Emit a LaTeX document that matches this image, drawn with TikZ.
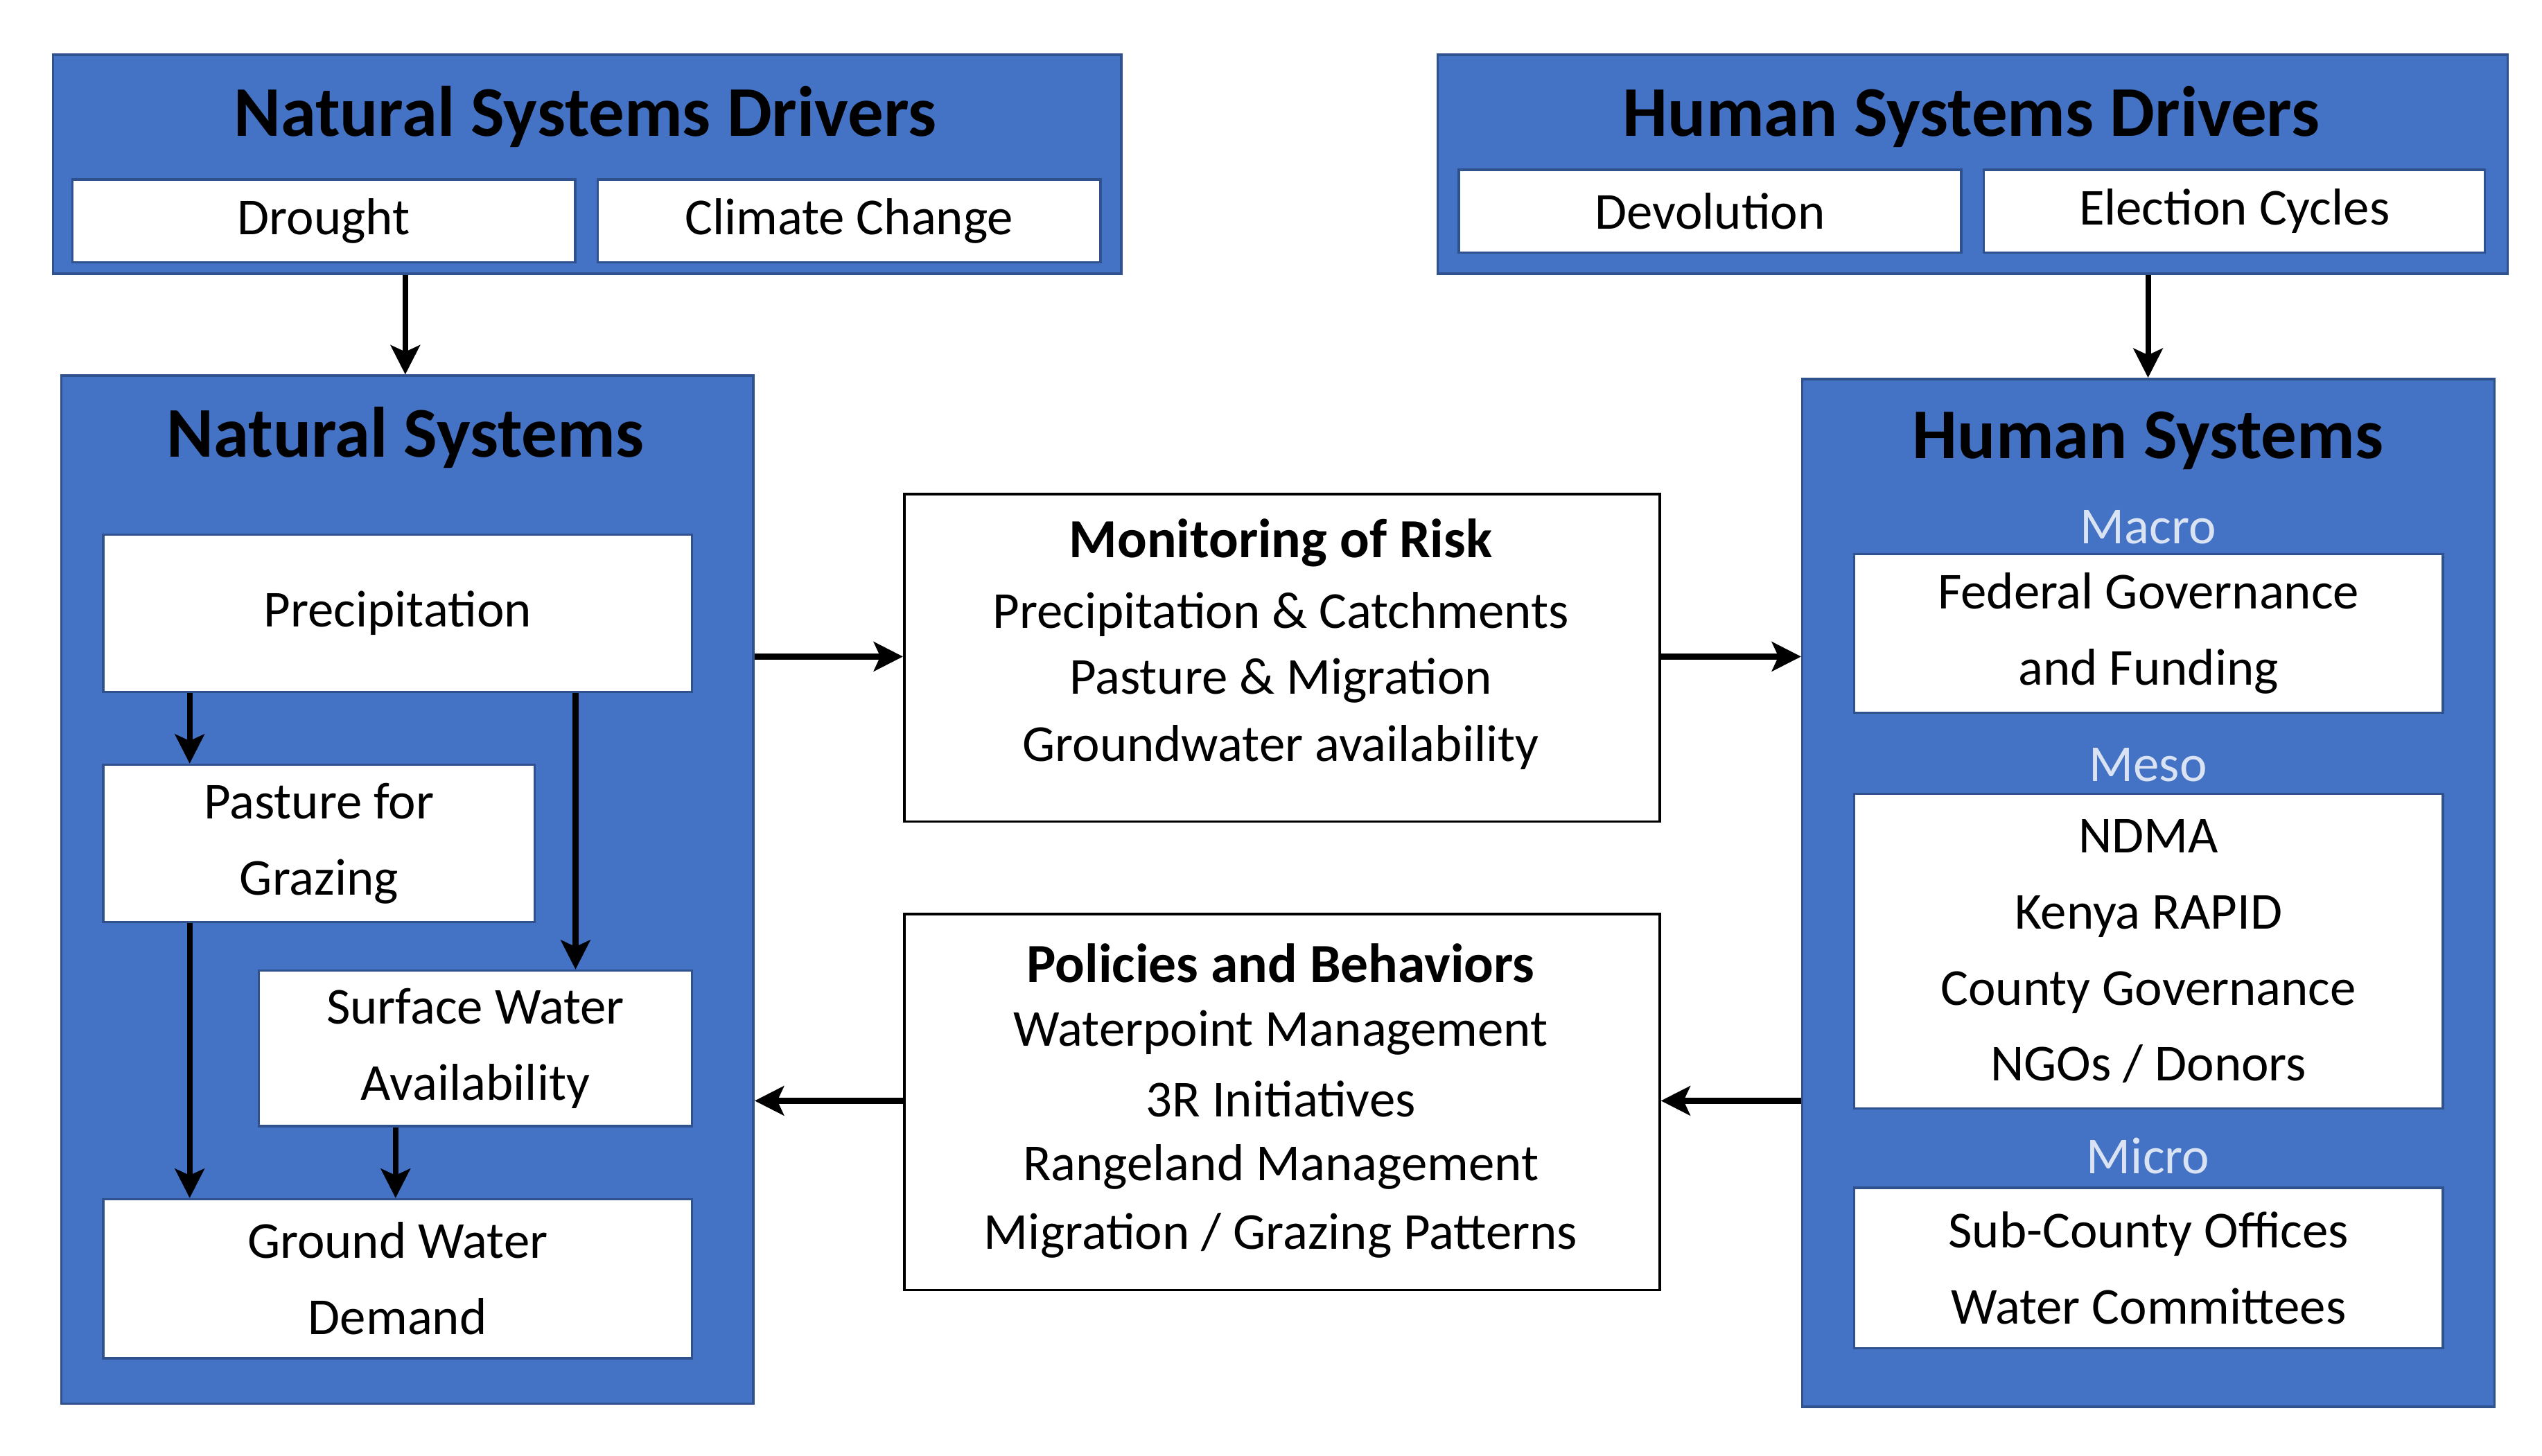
\documentclass[tikz,border=0pt]{standalone}
\usepackage{fontspec}
\setmainfont{Carlito}
\usetikzlibrary{calc,arrows.meta}
\definecolor{bfill}{HTML}{4472C4}
\definecolor{bline}{HTML}{2F528F}
\definecolor{ltxt}{HTML}{DAE3F3}
\tikzset{
 outer/.style={draw=bline,fill=bfill,line width=1.5pt,anchor=north west,inner sep=0pt},
 wbox/.style={draw=bline,fill=white,line width=1.5pt,anchor=north west,inner sep=0pt,align=center,font=\fontsize{32}{47}\selectfont},
 mbox/.style={draw=black,fill=white,line width=1.5pt,anchor=north west,inner sep=0pt},
 ttl/.style={font=\fontsize{44}{50}\selectfont\bfseries},
 txt/.style={font=\fontsize{32}{40}\selectfont},
 lvl/.style={font=\fontsize{32}{40}\selectfont,text=ltxt},
 arr/.style={line width=3.5pt,-{Stealth[length=18pt,width=18pt,inset=4pt]}}
}
\newcommand{\bx}[6]{\node[#1,minimum width=#4-#2,minimum height=#5-#3] (#6) at (#2,#3) {};}
\begin{document}
\begin{tikzpicture}[x=1pt,y=-1pt]
\useasboundingbox (0,0) rectangle (1568,898);
% Natural drivers
\bx{outer}{32}{33}{691}{168}{nsd}
\node[ttl] (nsdt) at (361,72) {Natural Systems Drivers};
\node[wbox,minimum width=310,minimum height=51] (dr) at (44,110) {Drought};
\node[wbox,minimum width=310,minimum height=51] (cc) at (368,110) {Climate Change};
% Human drivers
\bx{outer}{886}{33}{1546}{168}{hsd}
\node[ttl] (hsdt) at (1216,72) {Human Systems Drivers};
\node[wbox,minimum width=310,minimum height=51] (dev) at (899,104) {Devolution};
\node[wbox,minimum width=309,minimum height=51] (el) at (1223,104) {Election Cycles};
% Natural systems
\bx{outer}{37}{231}{464}{865}{ns}
\node[ttl] (nst) at (250,270) {Natural Systems};
\node[wbox,minimum width=363,minimum height=97] (prec) at (63,329) {Precipitation};
\node[wbox,minimum width=266,minimum height=97] (past) at (63,471) {Pasture for\\Grazing};
\node[wbox,minimum width=267,minimum height=96] (sw) at (159,598) {Surface Water\\Availability};
\node[wbox,minimum width=363,minimum height=98] (gw) at (63,739) {Ground Water\\Demand};
% Middle
\node[mbox,minimum width=466,minimum height=202] (mon) at (557,304) {};
\node[ttl,font=\fontsize{34}{40}\selectfont\bfseries] (mont) at (790,335) {Monitoring of Risk};
\node[txt] (m1) at (790,379) {Precipitation \& Catchments};
\node[txt] (m2) at (790,420) {Pasture \& Migration};
\node[txt] (m3) at (790,461) {Groundwater availability};
\node[mbox,minimum width=466,minimum height=232] (pol) at (557,563) {};
\node[ttl,font=\fontsize{34}{40}\selectfont\bfseries] (polt) at (790,594) {Policies and Behaviors};
\node[txt] (p1) at (790,637) {Waterpoint Management};
\node[txt] (p2) at (790,678) {3R Initiatives};
\node[txt] (p3) at (790,720) {Rangeland Management};
\node[txt] (p4) at (790,762) {Migration / Grazing Patterns};
% Human systems
\bx{outer}{1111}{233}{1538}{867}{hs}
\node[ttl] (hst) at (1325,272) {Human Systems};
\node[lvl] (mac) at (1325,325) {Macro};
\node[wbox,minimum width=363,minimum height=98] (fed) at (1143,341) {Federal Governance\\and Funding};
\node[lvl] (mes) at (1325,472) {Meso};
\node[wbox,minimum width=363,minimum height=194] (meso) at (1143,489) {NDMA\\Kenya RAPID\\County Governance\\NGOs / Donors};
\node[lvl] (mic) at (1325,713) {Micro};
\node[wbox,minimum width=363,minimum height=99] (micro) at (1143,732) {Sub-County Offices\\Water Committees};
% arrows
\draw[arr] (nsd.south -| nst) -- (ns.north -| nst);
\draw[arr] (hsd.south -| hst) -- (hs.north -| hst);
\draw[arr] (ns.east |- 0,405) -- (mon.west |- 0,405);
\draw[arr] (mon.east |- 0,405) -- (hs.west |- 0,405);
\draw[arr] (hs.west |- 0,679) -- (pol.east |- 0,679);
\draw[arr] (pol.west |- 0,679) -- (ns.east |- 0,679);
\draw[arr] (prec.south -| 117,0) -- (past.north -| 117,0);
\draw[arr] (prec.south -| 355,0) -- (sw.north -| 355,0);
\draw[arr] (past.south -| 117,0) -- (gw.north -| 117,0);
\draw[arr] (sw.south -| 244,0) -- (gw.north -| 244,0);
\end{tikzpicture}
\end{document}
